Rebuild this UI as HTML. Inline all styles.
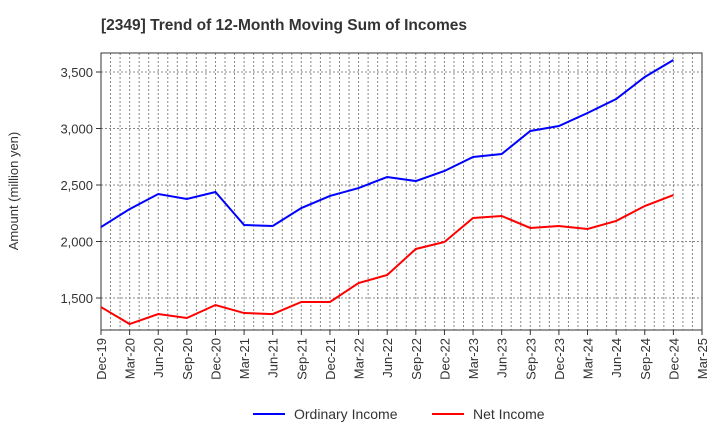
<!DOCTYPE html>
<html><head><meta charset="utf-8"><style>
body{margin:0;background:#fff;font-family:"Liberation Sans",sans-serif;}
</style></head><body>
<svg id="c" width="720" height="440" xmlns="http://www.w3.org/2000/svg">
<text x="101" y="30" font-size="15.5" font-weight="bold" fill="#333">[2349]  Trend of 12-Month Moving Sum of Incomes</text>
<text transform="translate(18,191) rotate(-90)" text-anchor="middle" font-size="13" fill="#333">Amount (million yen)</text>
<g id="grid"></g><g id="axes"></g><g id="series"></g>
<g>
<line x1="253" y1="414" x2="285" y2="414" stroke="#0000ff" stroke-width="2"/>
<text x="294" y="419" font-size="14" fill="#333">Ordinary Income</text>
<line x1="432" y1="414" x2="464" y2="414" stroke="#ff0000" stroke-width="2"/>
<text x="473" y="419" font-size="14" fill="#333">Net Income</text>
</g>
</svg>
<script>
const categories=["Dec-19","Mar-20","Jun-20","Sep-20","Dec-20","Mar-21","Jun-21","Sep-21","Dec-21","Mar-22","Jun-22","Sep-22","Dec-22","Mar-23","Jun-23","Sep-23","Dec-23","Mar-24","Jun-24","Sep-24","Dec-24","Mar-25"];
const ordinaryIncome=[2128,2287,2420,2376,2438,2146,2137,2296,2403,2473,2571,2535,2624,2748,2774,2978,3022,3137,3261,3456,3606];
const netIncome=[1420,1270,1358,1323,1438,1367,1358,1465,1465,1633,1704,1934,1996,2208,2226,2120,2137,2111,2182,2314,2411];
const yTicks=[1500,2000,2500,3000,3500];
const X0=101,X1=702,Y0=53,Y1=330,YMIN=1217,YMAX=3668;
const ns="http://www.w3.org/2000/svg";
const step=(X1-X0)/(categories.length-1);
const xs=i=>X0+i*step;
const ys=v=>Y1-(v-YMIN)/(YMAX-YMIN)*(Y1-Y0);
function mk(t,a,p){const e=document.createElementNS(ns,t);for(const k in a)e.setAttribute(k,a[k]);p.appendChild(e);return e;}
const g=document.getElementById('grid'),ax=document.getElementById('axes'),s=document.getElementById('series');
for(let m=1;m<(categories.length-1)*3;m++){const x=X0+m*step/3;
const l=mk('line',{x1:x,x2:x,y1:Y0,y2:Y1,stroke:'#888','stroke-width':1,'stroke-dasharray':'2,2'},g);

}
yTicks.forEach(v=>{
const l=mk('line',{x1:X0,x2:X1,y1:ys(v),y2:ys(v),stroke:'#888','stroke-width':1,'stroke-dasharray':'2,2'},g);

});
const fr=mk('rect',{x:X0,y:Y0,width:X1-X0,height:Y1-Y0,fill:'none',stroke:'#333','stroke-width':1},ax);


yTicks.forEach(v=>{const y=ys(v);
mk('line',{x1:X0-5,x2:X0,y1:y,y2:y,stroke:'#333'},ax);
const t=mk('text',{x:X0-8,y:y+5,'text-anchor':'end','font-size':13,fill:'#333'},ax);t.textContent=v.toLocaleString('en-US');

});
categories.forEach((c,i)=>{const x=xs(i);
mk('line',{x1:x,x2:x,y1:Y1,y2:Y1+5,stroke:'#333'},ax);
const t=mk('text',{transform:`translate(${x+5},${Y1+8}) rotate(-90)`,'text-anchor':'end','font-size':13,fill:'#333'},ax);t.textContent=c;

});
function line(d,col,name){const p=mk('polyline',{points:d.map((v,i)=>xs(i)+','+ys(v)).join(' '),fill:'none',stroke:col,'stroke-width':2},s);

}
line(ordinaryIncome,'#0000ff','ordinary-income-line');
line(netIncome,'#ff0000','net-income-line');
</script>
</body></html>
